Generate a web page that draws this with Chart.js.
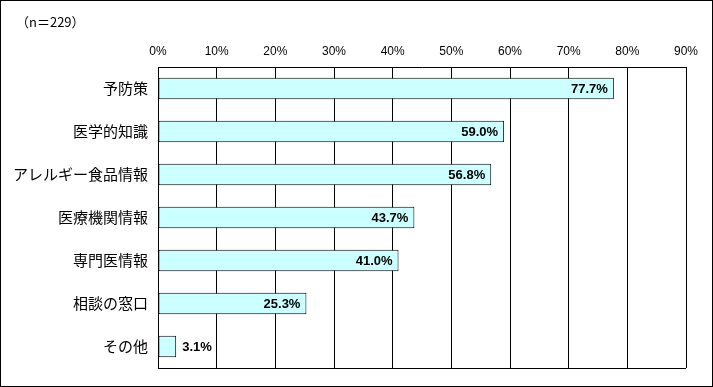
<!DOCTYPE html>
<html><head><meta charset="utf-8">
<script src="https://cdn.jsdelivr.net/npm/chart.js@4"></script>
<style>html,body{margin:0;padding:0;background:#fff}#wrap{width:713px;height:387px}</style>
</head><body><div id="wrap"><canvas id="c" width="713" height="387"></canvas></div>
<script>
const categories = ["予防策","医学的知識","アレルギー食品情報","医療機関情報","専門医情報","相談の窓口","その他"];
const values = [77.7, 59.0, 56.8, 43.7, 41.0, 25.3, 3.1];
const tickValues = [0,10,20,30,40,50,60,70,80,90];
const sampleNote = "（n＝229）";

const deco = {
  id: 'deco',
  afterDraw(chart) {
    const ctx = chart.ctx, a = chart.chartArea;
    ctx.save();
    ctx.strokeStyle = '#000'; ctx.lineWidth = 1;
    ctx.beginPath();
    ctx.moveTo(a.left, Math.round(a.bottom) + 0.5); ctx.lineTo(a.right, Math.round(a.bottom) + 0.5);
    ctx.stroke();
    ctx.strokeRect(0.5, 0.5, 712, 386);
    ctx.fillStyle = '#000';
    ctx.font = '13px "Noto Sans CJK JP", sans-serif';
    ctx.textBaseline = 'middle'; ctx.textAlign = 'left';
    ctx.fillText(sampleNote, 16, 22);
    const meta = chart.getDatasetMeta(0);
    ctx.font = 'bold 13px "Liberation Sans", Arial, sans-serif';
    meta.data.forEach((bar, i) => {
      const v = values[i];
      const txt = v.toFixed(1) + '%';
      if (bar.x - bar.base > 50) {
        ctx.textAlign = 'right';
        ctx.fillText(txt, bar.x - 6, bar.y + 1);
      } else {
        ctx.textAlign = 'left';
        ctx.fillText(txt, bar.x + 6, bar.y + 1);
      }
    });
    ctx.restore();
  }
};

new Chart(document.getElementById('c'), {
  type: 'bar',
  data: {
    labels: categories,
    datasets: [{
      data: values,
      backgroundColor: '#CCFFFF',
      borderColor: '#000',
      borderWidth: 1,
      borderSkipped: false,
      barPercentage: 0.5,
      categoryPercentage: 1.0
    }]
  },
  options: {
    indexAxis: 'y',
    responsive: false,
    animation: false,
    events: [],
    layout: { padding: { left: 0, top: 0, right: 27, bottom: 16 } },
    plugins: { legend: { display: false }, tooltip: { enabled: false } },
    scales: {
      x: {
        position: 'top',
        min: 0, max: 90,
        afterFit(s) { s.height = 67; },
        afterBuildTicks(s) { s.ticks = tickValues.map(v => ({ value: v })); },
        ticks: {
          callback: v => v + '%',
          color: '#000',
          padding: 8,
          font: { family: '"Liberation Sans", Arial, sans-serif', size: 12 }
        },
        grid: { color: '#000', lineWidth: 1, drawTicks: false },
        border: { color: '#000', width: 1 }
      },
      y: {
        afterFit(s) { s.width = 158; },
        ticks: {
          color: '#000',
          padding: 10,
          font: { family: '"Noto Sans CJK JP", sans-serif', size: 15 }
        },
        grid: { display: false, drawTicks: false },
        border: { color: '#000', width: 1 }
      }
    }
  },
  plugins: [deco]
});
</script>
</body></html>
